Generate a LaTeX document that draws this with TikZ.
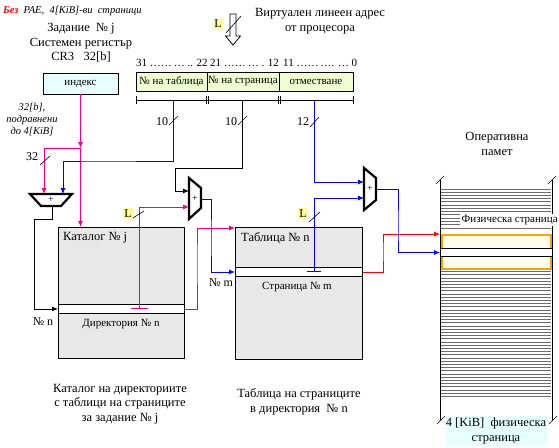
\documentclass[tikz,border=0pt]{standalone}
\usepackage{fontspec}
\setmainfont{Liberation Serif}
\usetikzlibrary{arrows.meta,positioning}

\definecolor{catgray}{RGB}{232,232,232}
\definecolor{fieldgreen}{RGB}{240,255,208}
\definecolor{idxcyan}{RGB}{230,255,255}
\definecolor{lyellow}{RGB}{255,255,153}
\definecolor{pagefill}{RGB}{255,255,236}
\definecolor{memorange}{RGB}{255,160,0}

\tikzset{
  tip/.style={-{Latex[length=6pt,width=5pt]}},
  wire/.style={line width=0.9pt},
  adder/.style={line width=2.2pt,fill=white,line join=miter},
  Lbox/.style={fill=lyellow,inner sep=1.5pt,font=\fontsize{12}{12}\selectfont},
  txt/.style={font=\fontsize{12.5}{14.5}\selectfont,align=center,inner sep=0pt},
  smalltxt/.style={font=\fontsize{11}{12}\selectfont,inner sep=0pt},
  memline/.style={gray!85!black,line width=0.8pt},
  slash/.style={line width=0.6pt},
}

\begin{document}
\begin{tikzpicture}[x=1pt,y=-1pt]
\useasboundingbox (0,0) rectangle (559,447);

% heading
\node[anchor=west,inner sep=0pt,font=\itshape\fontsize{10.5}{12}\selectfont] (title) at (3,11)
  {\textcolor{red}{\textbf{Без}}\ \ PAE,\ \ 4[KiB]-ви\ \ страници};

% CR3
\node[txt] (cr3) at (81,43) {Задание \ № j\\Системен регистър\\CR3 \ \ 32[b]};
\node[draw,fill=idxcyan,line width=0.9pt,minimum width=75pt,minimum height=21pt,smalltxt] (idx) at (80.5,83.5) {индекс};
\node[txt,font=\itshape\fontsize{10.5}{12}\selectfont] (align32) at (32,120) {32[b],\\подравнени\\до 4[KiB]};

% linear address
\node[txt] (vaddr) at (320,21) {Виртуален линеен адрес\\от процесора};
\draw[line width=0.8pt,fill=white] (230,14) -- (236,14) -- (236,36) -- (240.5,36) -- (233,45) -- (225.5,36) -- (230,36) -- cycle;
\draw[slash] (226,33) -- (241,16);
\node[Lbox] (Ltop) at (218,24) {L};

\node[smalltxt,anchor=west] (bits1) at (136,63) {31 ……\,… .. 22};
\node[smalltxt,anchor=west] (bits2) at (210,63) {21 ……\,… . 12};
\node[smalltxt,anchor=west] (bits3) at (283,63) {11 ……\,…. … 0};
\node[draw,fill=fieldgreen,line width=0.8pt,minimum width=71pt,minimum height=19pt,smalltxt] (ftbl) at (171.5,81.5) {№ на таблица};
\node[draw,fill=fieldgreen,line width=0.8pt,minimum width=72pt,minimum height=19pt,smalltxt] (fpg) at (243,81.5) {№ на страница};
\node[draw,fill=fieldgreen,line width=0.8pt,minimum width=74pt,minimum height=19pt,smalltxt] (foff) at (316,81.5) {отместване};

% bit ranges
\draw[line width=0.8pt] (136,100) -- (353,100);
\foreach \x in {136,206.5,208.5,278.5,280.5,353}
  \draw[line width=0.8pt] (\x,96) -- (\x,104);
\coordinate (b1) at (173,100);
\coordinate (b2) at (242,100);
\coordinate (b3) at (314,100);

% adders
\draw[adder] (30,194) -- (72,194) -- (61,206) -- (41,206) -- cycle;
\node[inner sep=0pt] (add1) at (51,199.5) {+};
\coordinate (a1in1) at (44,194);
\coordinate (a1in2) at (63,194);
\coordinate (a1out) at (52,206);

\draw[adder] (189,178) -- (201,188) -- (201,208) -- (189,219) -- cycle;
\node[inner sep=0pt] (add2) at (195,198.5) {+};
\coordinate (a2in1) at (189,191);
\coordinate (a2in2) at (189,207);
\coordinate (a2out) at (201,199);

\draw[adder] (364,168) -- (376,178) -- (376,200) -- (364,210) -- cycle;
\node[inner sep=0pt] (add3) at (370,189) {+};
\coordinate (a3in1) at (364,182);
\coordinate (a3in2) at (364,198);
\coordinate (a3out) at (376,189);

% page directory
\node[draw,fill=catgray,line width=0.9pt,minimum width=126pt,minimum height=131pt,anchor=north west] (cat) at (58,227) {};
\node[draw,fill=white,line width=0.9pt,minimum width=126pt,minimum height=9pt,inner sep=0pt,anchor=north west] (catrow) at (58,304) {};
\node[smalltxt,font=\fontsize{12.5}{14}\selectfont,anchor=west] (cattitle) at (63,238) {Каталог № j};
\node[smalltxt] (dirn) at (121,324) {Директория № n};
\node[txt] (catcap) at (120,404) {Каталог на директориите\\с таблици на страниците\\за задание № j};

% page table
\node[draw,fill=catgray,line width=0.9pt,minimum width=127pt,minimum height=132pt,anchor=north west] (tab) at (235,227) {};
\node[draw,fill=white,line width=0.9pt,minimum width=127pt,minimum height=9pt,inner sep=0pt,anchor=north west] (tabrow) at (235,267) {};
\node[smalltxt,font=\fontsize{12.5}{14}\selectfont,anchor=west] (tabtitle) at (241,238) {Таблица № n};
\node[smalltxt] (pgm) at (297,287) {Страница № m};
\node[txt] (tabcap) at (299,402) {Таблица на страниците\\в директория \ № n};

% memory
\node[txt] (ram) at (497,144) {Оперативна\\памет};
\foreach \k in {0,...,6}
  \draw[memline] (441,{189+3.2*\k}) -- (551,{189+3.2*\k});
\foreach \k in {0,...,4}
  \draw[memline] (441,{211.5+3.2*\k}) -- (551,{211.5+3.2*\k});
\draw[memline] (441,228.5) -- (551,228.5);
\foreach \k in {0,...,39}
  \draw[memline] (441,{271.5+3.2*\k}) -- (551,{271.5+3.2*\k});
\node[draw=memorange,fill=pagefill,line width=2pt,minimum width=109pt,minimum height=34pt,anchor=north west] (pagebox) at (441,234) {};
\node[draw,fill=white,line width=1pt,minimum width=112pt,minimum height=8pt,inner sep=0pt,anchor=north west] (memrow) at (440,248) {};
\draw[line width=1pt] (440,180) -- (440,420);
\draw[line width=1pt] (552,180) -- (552,420);
\draw[slash] (436,184) -- (444,176);
\draw[slash] (548,184) -- (556,176);
\draw[slash] (437,424) -- (445,416);
\draw[slash] (549,424) -- (557,416);
\node[fill=white,smalltxt,inner sep=1.5pt,anchor=west] (physlbl) at (460,220) {Физическа страница};
\node[fill=idxcyan,txt,minimum width=101pt,minimum height=30pt] (pglbl) at (496,431) {4 [KiB]\ \ физическа\\страница};

% CR3 -> directory
\coordinate (j1) at (80.5,148);
\draw[wire,magenta,tip] (idx.south) -- (j1);
\draw[wire,magenta,tip] (j1) -- (j1 |- cat.north);
\draw[wire,magenta,tip] (j1) -| (a1in1);
\draw[slash] (40,165) -- (50,156);
\node[smalltxt,font=\fontsize{12}{12}\selectfont] (n32) at (32,157) {32};

% table index
\draw[wire,blue,tip] (b1) |- (100,161) -| (a1in2);
\draw[slash] (169,125) -- (178,116);
\node[smalltxt,font=\fontsize{12}{12}\selectfont] (n10a) at (162,122) {10};

\draw[wire,tip] (a1out) |- (34,219) |- (catrow.west);
\node[smalltxt,font=\fontsize{12}{12}\selectfont] (nn) at (43,322) {№ n};

% page index
\draw[wire,tip] (b2) |- (175,168) |- (a2in1);
\draw[slash] (238,125) -- (247,116);
\node[smalltxt,font=\fontsize{12}{12}\selectfont] (n10b) at (231,122) {10};

\coordinate (ct) at (139.5,308.5);
\draw[wire,magenta,tip] (ct) |- (a2in2);
\draw[wire,magenta] (131,308.5) -- (148,308.5);
\draw[slash] (133,218) -- (144,211);
\node[Lbox] (Lcat) at (128,213.5) {L};

\coordinate (tabin) at (235,228);
\draw[wire,magenta,tip] (catrow.east) -| (197,260) |- (tabin);

\draw[wire,blue,tip] (a2out) -| (211,240) |- (tabrow.west);
\node[smalltxt,font=\fontsize{12}{12}\selectfont] (nm) at (221,283) {№ m};

% offset
\draw[wire,blue,tip] (b3) |- (a3in1);
\draw[slash] (310,127) -- (319,117);
\node[smalltxt,font=\fontsize{12}{12}\selectfont] (n12) at (303,122) {12};

\coordinate (tt) at (314,271.5);
\draw[wire,blue,tip] (tt) |- (a3in2);
\draw[wire,blue] (307,271.5) -- (321,271.5);
\draw[slash] (309,222) -- (320,212);
\node[Lbox] (Ltab) at (303,213.5) {L};

\coordinate (pagein) at (440,234);
\draw[wire,red,tip] (tabrow.east) -| (383,250) |- (pagein);
\draw[wire,blue,tip] (a3out) -| (398,230) |- (memrow.west);
\end{tikzpicture}
\end{document}
